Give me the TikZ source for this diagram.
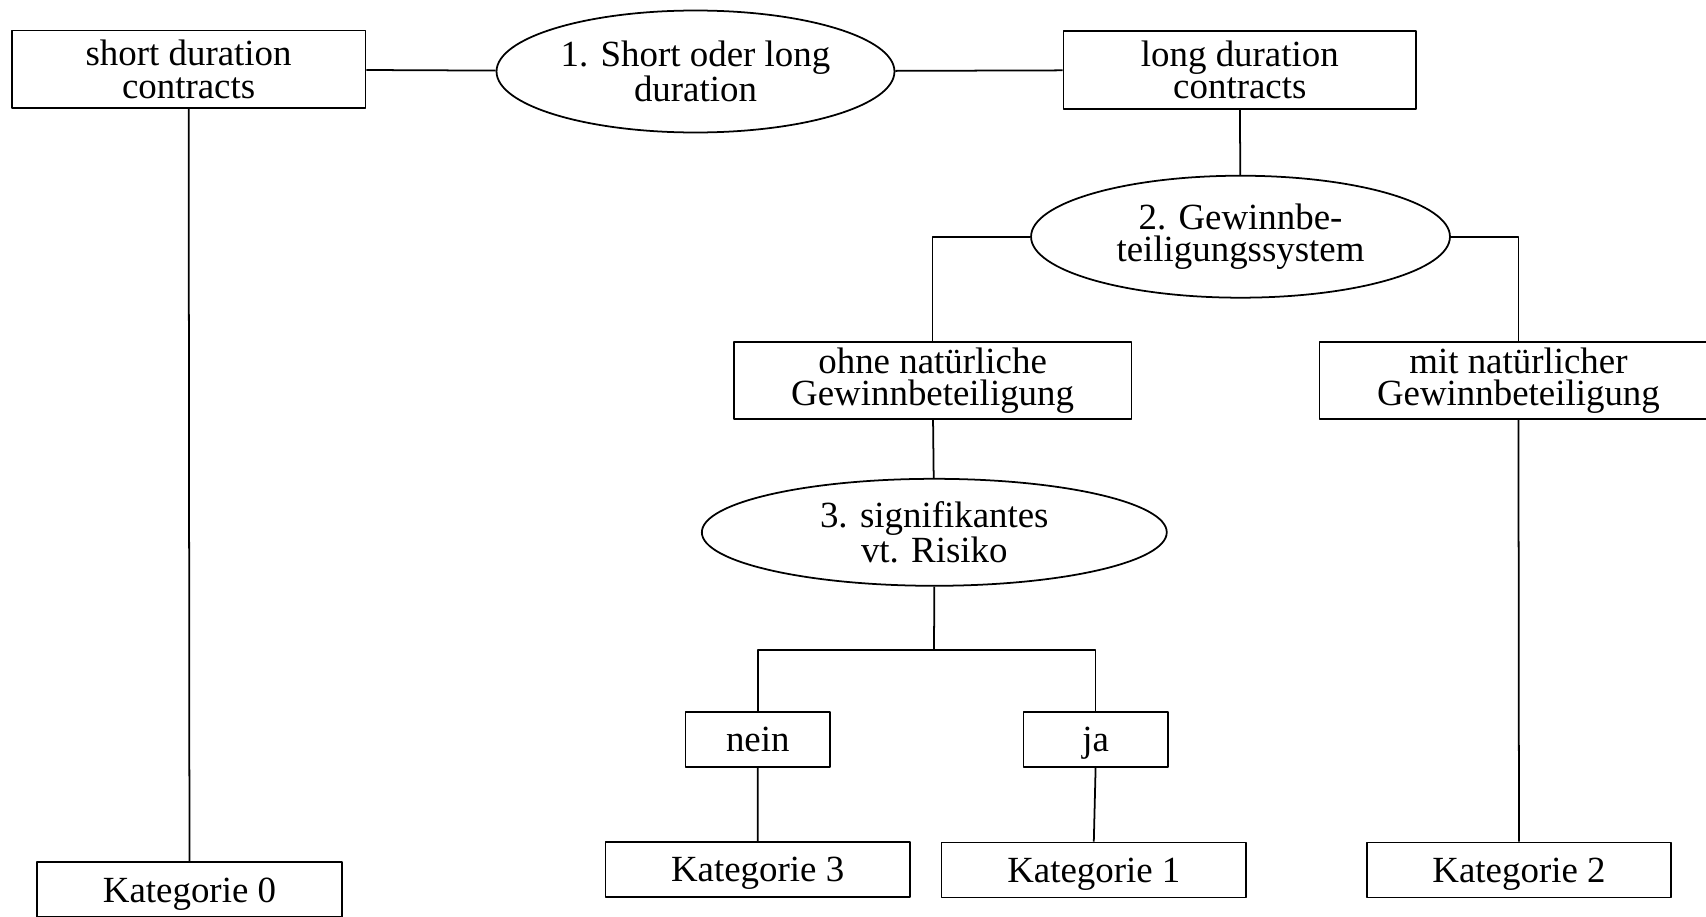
\documentclass[tikz,border=0pt]{standalone}
\usepackage{fontspec}
\setmainfont{Liberation Serif}
\usetikzlibrary{shapes.geometric}

\begin{document}
\begin{tikzpicture}[x=0.02cm, y=-0.02cm, line join=round, line width=1pt,
	font=\fontsize{21}{18.5}\selectfont,
	kasten/.style={draw, rectangle, align=center, inner sep=0pt, minimum width=7.96cm, minimum height=1.55cm},
	klein/.style={draw, rectangle, inner sep=0pt, text height=14pt, text depth=0pt, minimum width=2.89cm, minimum height=1.10cm},
	kat/.style={draw, rectangle, inner sep=0pt, text height=14pt, text depth=0pt, minimum width=6.09cm, minimum height=1.10cm},
	frage/.style={draw, ellipse, align=center, inner xsep=-60pt, inner ysep=0pt}]

	% Rahmen des Bildes
	\useasboundingbox (0,0) rectangle (1706,916);

	% Fragen (Ellipsen)
	\node[frage, minimum width=7.96cm, minimum height=2.44cm] (F1) at (695.5,71.5) {1. Short oder long\\duration};
	\node[frage, minimum width=8.38cm, minimum height=2.44cm] (F2) at (1240.5,236.7) {2. Gewinnbe-\\teiligungssystem};
	\node[frage, minimum width=9.30cm, minimum height=2.14cm] (F3) at (934.3,532.3) {3. signifikantes\\vt. Risiko};

	% Antworten
	\node[kasten, minimum width=7.08cm] (short) at (188.6,69.2) {short duration\\contracts};
	\node[kasten, minimum width=7.05cm, minimum height=1.56cm] (long) at (1239.8,69.8) {long duration\\contracts};
	\node[kasten] (ohne) at (932.6,380.5) {ohne natürliche\\Gewinnbeteiligung};
	\node[kasten] (mit) at (1518.4,380.5) {mit natürlicher\\Gewinnbeteiligung};
	\node[klein] (nein) at (757.8,739.2) {nein};
	\node[klein] (ja) at (1095.6,739.5) {ja};

	% Kategorien
	\node[kat] (K0) at (189.5,889.8) {Kategorie 0};
	\node[kat] (K3) at (757.6,869.6) {Kategorie 3};
	\node[kat] (K1) at (1093.8,870) {Kategorie 1};
	\node[kat] (K2) at (1519,870) {Kategorie 2};

	% Verbindungen
	\coordinate (V) at (934,650);
	\draw (short) -- (F1);
	\draw (F1) -- (long);
	\draw (long) -- (F2);
	\draw (F2.west) -| (ohne.north);
	\draw (F2.east) -| (mit.north);
	\draw (short) -- (K0);
	\draw (ohne) -- (F3);
	\draw (F3.south) -- (V);
	\draw (nein.north) |- (V) -| (ja.north);
	\draw (nein) -- (K3);
	\draw (ja.south) -- (K1.north);
	\draw (mit) -- (K2);

\end{tikzpicture}
\end{document}
